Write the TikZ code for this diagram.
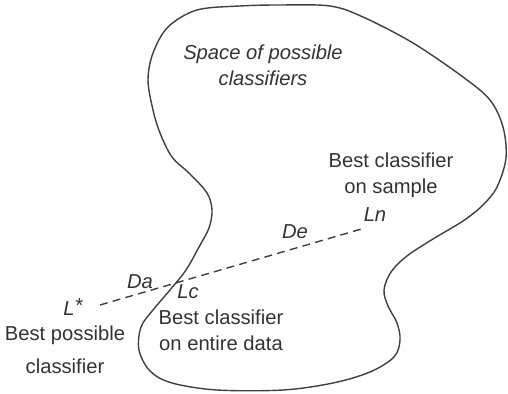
\documentclass[tikz,border=0pt]{standalone}
\usepackage{fontspec}
\setmainfont{Liberation Sans}
\usepackage{tikz}

\begin{document}
\begin{tikzpicture}[x=0.02cm,y=-0.02cm,
		lbl/.style={text=black!80,font=\fontsize{11.5}{15}\selectfont,align=center,inner sep=1pt},
		ital/.style={lbl,font=\fontsize{11.5}{15}\selectfont\itshape}]
		\useasboundingbox (0,0) rectangle (508,394);
		\draw[black!75,line width=0.8pt] plot[smooth cycle,tension=0.55] coordinates {
	(197,10) (240,6) (280,5) (330,6) (363,17) (413,43) (463,77) (490,100) (503,127) (506,158)
	(497,187) (483,205) (463,221) (433,239) (407,256) (391,272) (384,290) (388,306) (397,323)
	(400,340) (394,357) (370,372) (333,383) (283,390) (217,390) (172,383) (150,371) (139,350)
	(141,327) (153,310) (170,290) (186,270) (199,247) (209,228) (212,210) (207,193) (190,174)
	(172,157) (160,133) (153,110) (148,80) (153,53) (168,27)};
		\node[ital] (space) at (263,65) {Space of possible\\classifiers};
		\node[lbl] (sample) at (391,175) {Best classifier\\on sample};
		\node[ital] (Ln) at (375,215) {Ln};
		\node[ital] (De) at (295,232) {De};
		\node[ital] (Da) at (140,282) {Da};
		\node[ital] (Lc) at (188,292) {Lc};
		\node[ital] (Lstar) at (73,307) {L\raisebox{0.35ex}{*}};
		\node[lbl] (entire) at (221,330) {Best classifier\\on entire data};
		\node[lbl,font=\fontsize{11.5}{18.5}\selectfont] (possible) at (65,350) {Best possible\\classifier};
		\coordinate (p0) at (100,305);
		\coordinate (p1) at (365,228);
		\draw[black!75,line width=0.8pt,dash pattern=on 4.5pt off 3pt] (p0) -- (p1);
	\end{tikzpicture}
\end{document}
